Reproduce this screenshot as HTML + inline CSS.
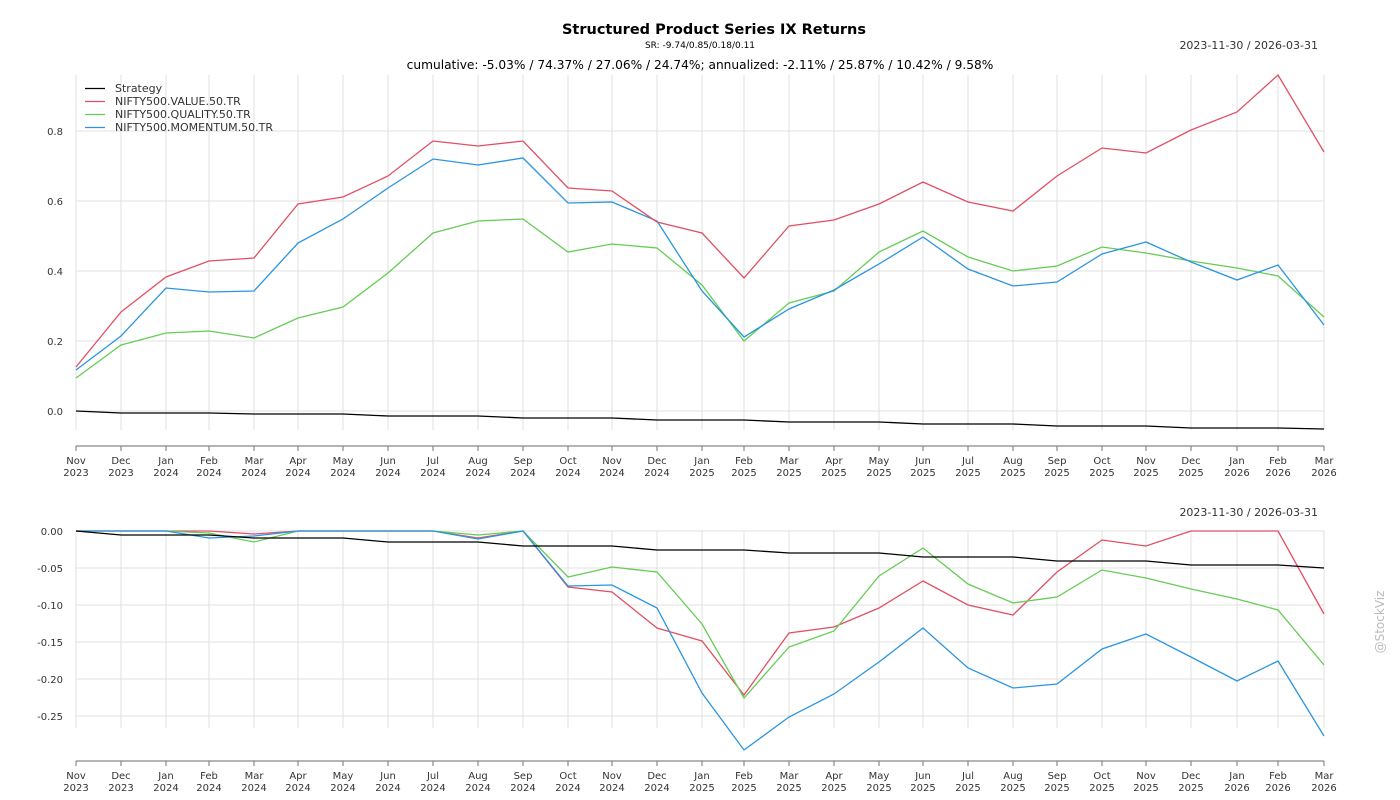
<!DOCTYPE html>
<html><head><meta charset="utf-8"><style>
body{margin:0;background:#fff;}
svg{display:block;font-family:"DejaVu Sans","Liberation Sans",sans-serif;}
.t{font-size:10px;fill:#333;text-anchor:middle;}
.y{font-size:10px;fill:#333;text-anchor:end;}
.g{stroke:#e0e0e0;stroke-width:1;}
</style></head><body>
<svg width="1400" height="800" xmlns="http://www.w3.org/2000/svg">
<text x="714" y="34" style="font-size:14.5px;font-weight:bold;text-anchor:middle;fill:#000">Structured Product Series IX Returns</text>
<text x="700" y="48" style="font-size:9px;text-anchor:middle;fill:#000">SR: -9.74/0.85/0.18/0.11</text>
<text x="1318" y="49" style="font-size:11px;text-anchor:end;fill:#333">2023-11-30 / 2026-03-31</text>
<text x="700" y="69" style="font-size:12.2px;text-anchor:middle;fill:#000">cumulative: -5.03% / 74.37% / 27.06% / 24.74%; annualized: -2.11% / 25.87% / 10.42% / 9.58%</text>
<text x="1318" y="516" style="font-size:11px;text-anchor:end;fill:#333">2023-11-30 / 2026-03-31</text>
<text transform="translate(1384,622) rotate(-90)" style="font-size:12px;fill:#bbb;text-anchor:middle">@StockViz</text>

<g class="g">
<path d="M76 75V430M121 75V430M166 75V430M209 75V430M254 75V430M298 75V430M343 75V430M388 75V430M433 75V430M478 75V430M523 75V430M568 75V430M612 75V430M657 75V430M702 75V430M744 75V430M789 75V430M834 75V430M879 75V430M923 75V430M968 75V430M1013 75V430M1057 75V430M1102 75V430M1146 75V430M1191 75V430M1237 75V430M1278 75V430M1324 75V430"/>
<path d="M76 131H1324M76 201H1324M76 271H1324M76 341H1324M76 411H1324"/>
<path d="M76 531V728M121 531V728M166 531V728M209 531V728M254 531V728M298 531V728M343 531V728M388 531V728M433 531V728M478 531V728M523 531V728M568 531V728M612 531V728M657 531V728M702 531V728M744 531V728M789 531V728M834 531V728M879 531V728M923 531V728M968 531V728M1013 531V728M1057 531V728M1102 531V728M1146 531V728M1191 531V728M1237 531V728M1278 531V728M1324 531V728"/>
<path d="M76 531H1324M76 568H1324M76 605H1324M76 642H1324M76 679H1324M76 716H1324"/>
</g>

<g class="y">
<text x="63" y="135">0.8</text><text x="63" y="205">0.6</text><text x="63" y="275">0.4</text><text x="63" y="345">0.2</text><text x="63" y="415">0.0</text>
<text x="63" y="535">0.00</text><text x="63" y="572">-0.05</text><text x="63" y="609">-0.10</text><text x="63" y="646">-0.15</text><text x="63" y="683">-0.20</text><text x="63" y="720">-0.25</text>
</g>

<g stroke="#888" stroke-width="1.2" fill="none">
<path d="M76 446H1324M76 761H1324"/>
<path d="M76 446v5M121 446v5M166 446v5M209 446v5M254 446v5M298 446v5M343 446v5M388 446v5M433 446v5M478 446v5M523 446v5M568 446v5M612 446v5M657 446v5M702 446v5M744 446v5M789 446v5M834 446v5M879 446v5M923 446v5M968 446v5M1013 446v5M1057 446v5M1102 446v5M1146 446v5M1191 446v5M1237 446v5M1278 446v5M1324 446v5"/>
<path d="M76 761v5M121 761v5M166 761v5M209 761v5M254 761v5M298 761v5M343 761v5M388 761v5M433 761v5M478 761v5M523 761v5M568 761v5M612 761v5M657 761v5M702 761v5M744 761v5M789 761v5M834 761v5M879 761v5M923 761v5M968 761v5M1013 761v5M1057 761v5M1102 761v5M1146 761v5M1191 761v5M1237 761v5M1278 761v5M1324 761v5"/>
</g>
<g class="t">
<g>
<text x="76" y="464">Nov</text><text x="76" y="476">2023</text>
<text x="121" y="464">Dec</text><text x="121" y="476">2023</text>
<text x="166" y="464">Jan</text><text x="166" y="476">2024</text>
<text x="209" y="464">Feb</text><text x="209" y="476">2024</text>
<text x="254" y="464">Mar</text><text x="254" y="476">2024</text>
<text x="298" y="464">Apr</text><text x="298" y="476">2024</text>
<text x="343" y="464">May</text><text x="343" y="476">2024</text>
<text x="388" y="464">Jun</text><text x="388" y="476">2024</text>
<text x="433" y="464">Jul</text><text x="433" y="476">2024</text>
<text x="478" y="464">Aug</text><text x="478" y="476">2024</text>
<text x="523" y="464">Sep</text><text x="523" y="476">2024</text>
<text x="568" y="464">Oct</text><text x="568" y="476">2024</text>
<text x="612" y="464">Nov</text><text x="612" y="476">2024</text>
<text x="657" y="464">Dec</text><text x="657" y="476">2024</text>
<text x="702" y="464">Jan</text><text x="702" y="476">2025</text>
<text x="744" y="464">Feb</text><text x="744" y="476">2025</text>
<text x="789" y="464">Mar</text><text x="789" y="476">2025</text>
<text x="834" y="464">Apr</text><text x="834" y="476">2025</text>
<text x="879" y="464">May</text><text x="879" y="476">2025</text>
<text x="923" y="464">Jun</text><text x="923" y="476">2025</text>
<text x="968" y="464">Jul</text><text x="968" y="476">2025</text>
<text x="1013" y="464">Aug</text><text x="1013" y="476">2025</text>
<text x="1057" y="464">Sep</text><text x="1057" y="476">2025</text>
<text x="1102" y="464">Oct</text><text x="1102" y="476">2025</text>
<text x="1146" y="464">Nov</text><text x="1146" y="476">2025</text>
<text x="1191" y="464">Dec</text><text x="1191" y="476">2025</text>
<text x="1237" y="464">Jan</text><text x="1237" y="476">2026</text>
<text x="1278" y="464">Feb</text><text x="1278" y="476">2026</text>
<text x="1324" y="464">Mar</text><text x="1324" y="476">2026</text>
</g>
<g transform="translate(0,315)">
<text x="76" y="464">Nov</text><text x="76" y="476">2023</text>
<text x="121" y="464">Dec</text><text x="121" y="476">2023</text>
<text x="166" y="464">Jan</text><text x="166" y="476">2024</text>
<text x="209" y="464">Feb</text><text x="209" y="476">2024</text>
<text x="254" y="464">Mar</text><text x="254" y="476">2024</text>
<text x="298" y="464">Apr</text><text x="298" y="476">2024</text>
<text x="343" y="464">May</text><text x="343" y="476">2024</text>
<text x="388" y="464">Jun</text><text x="388" y="476">2024</text>
<text x="433" y="464">Jul</text><text x="433" y="476">2024</text>
<text x="478" y="464">Aug</text><text x="478" y="476">2024</text>
<text x="523" y="464">Sep</text><text x="523" y="476">2024</text>
<text x="568" y="464">Oct</text><text x="568" y="476">2024</text>
<text x="612" y="464">Nov</text><text x="612" y="476">2024</text>
<text x="657" y="464">Dec</text><text x="657" y="476">2024</text>
<text x="702" y="464">Jan</text><text x="702" y="476">2025</text>
<text x="744" y="464">Feb</text><text x="744" y="476">2025</text>
<text x="789" y="464">Mar</text><text x="789" y="476">2025</text>
<text x="834" y="464">Apr</text><text x="834" y="476">2025</text>
<text x="879" y="464">May</text><text x="879" y="476">2025</text>
<text x="923" y="464">Jun</text><text x="923" y="476">2025</text>
<text x="968" y="464">Jul</text><text x="968" y="476">2025</text>
<text x="1013" y="464">Aug</text><text x="1013" y="476">2025</text>
<text x="1057" y="464">Sep</text><text x="1057" y="476">2025</text>
<text x="1102" y="464">Oct</text><text x="1102" y="476">2025</text>
<text x="1146" y="464">Nov</text><text x="1146" y="476">2025</text>
<text x="1191" y="464">Dec</text><text x="1191" y="476">2025</text>
<text x="1237" y="464">Jan</text><text x="1237" y="476">2026</text>
<text x="1278" y="464">Feb</text><text x="1278" y="476">2026</text>
<text x="1324" y="464">Mar</text><text x="1324" y="476">2026</text>
</g>
</g>

<g fill="none" stroke-width="1.3">
<polyline stroke="#66cc55" points="76,378 121,345 166,333 209,331 254,338 298,318 343,307 388,273 433,233 478,221 523,219 568,252 612,244 657,248 702,285 744,341 789,303 834,291 879,252 923,231 968,257 1013,271 1057,266 1102,247 1146,253 1191,261 1237,268 1278,276 1324,317"/>
<polyline stroke="#2b95e0" points="76,370 121,336 166,288 209,292 254,291 298,243 343,219 388,188 433,159 478,165 523,158 568,203 612,202 657,221 702,291 744,337 789,309 834,290 879,264 923,237 968,269 1013,286 1057,282 1102,254 1146,242 1191,262 1237,280 1278,265 1324,325"/>
<polyline stroke="#e05064" points="76,367 121,312 166,277 209,261 254,258 298,204 343,197 388,176 433,141 478,146 523,141 568,188 612,191 657,222 702,233 744,278 789,226 834,220 879,204 923,182 968,202 1013,211 1057,176 1102,148 1146,153 1191,130 1237,112 1278,75 1324,152"/>
<polyline stroke="#000" points="76,411 121,413 166,413 209,413 254,414 298,414 343,414 388,416 433,416 478,416 523,418 568,418 612,418 657,420 702,420 744,420 789,422 834,422 879,422 923,424 968,424 1013,424 1057,426 1102,426 1146,426 1191,428 1237,428 1278,428 1324,429"/>
<polyline stroke="#e05064" points="76,531 121,531 166,531 209,531 254,534 298,531 343,531 388,531 433,531 478,538 523,531 568,587 612,592 657,628 702,641 744,695 789,633 834,627 879,608 923,581 968,605 1013,615 1057,572 1102,540 1146,546 1191,531 1237,531 1278,531 1324,614"/>
<polyline stroke="#66cc55" points="76,531 121,531 166,531 209,533 254,542 298,531 343,531 388,531 433,531 478,535 523,531 568,577 612,567 657,572 702,624 744,698 789,647 834,631 879,576 923,548 968,584 1013,603 1057,597 1102,570 1146,578 1191,589 1237,599 1278,610 1324,665"/>
<polyline stroke="#2b95e0" points="76,531 121,531 166,531 209,538 254,536 298,531 343,531 388,531 433,531 478,539 523,531 568,586 612,585 657,608 702,693 744,750 789,717 834,694 879,662 923,628 968,668 1013,688 1057,684 1102,649 1146,634 1191,657 1237,681 1278,661 1324,736"/>
<polyline stroke="#000" points="76,531 121,535 166,535 209,535 254,538 298,538 343,538 388,542 433,542 478,542 523,546 568,546 612,546 657,550 702,550 744,550 789,553 834,553 879,553 923,557 968,557 1013,557 1057,561 1102,561 1146,561 1191,565 1237,565 1278,565 1324,568"/>
<path stroke="#000" d="M85 88.5H105"/>
<path stroke="#e05064" d="M85 101.5H105"/>
<path stroke="#66cc55" d="M85 114.5H105"/>
<path stroke="#2b95e0" d="M85 127.5H105"/>
</g>
<g style="font-size:11px;fill:#333">
<text x="115" y="92">Strategy</text>
<text x="115" y="105">NIFTY500.VALUE.50.TR</text>
<text x="115" y="118">NIFTY500.QUALITY.50.TR</text>
<text x="115" y="131">NIFTY500.MOMENTUM.50.TR</text>
</g>
</svg>
</body></html>
